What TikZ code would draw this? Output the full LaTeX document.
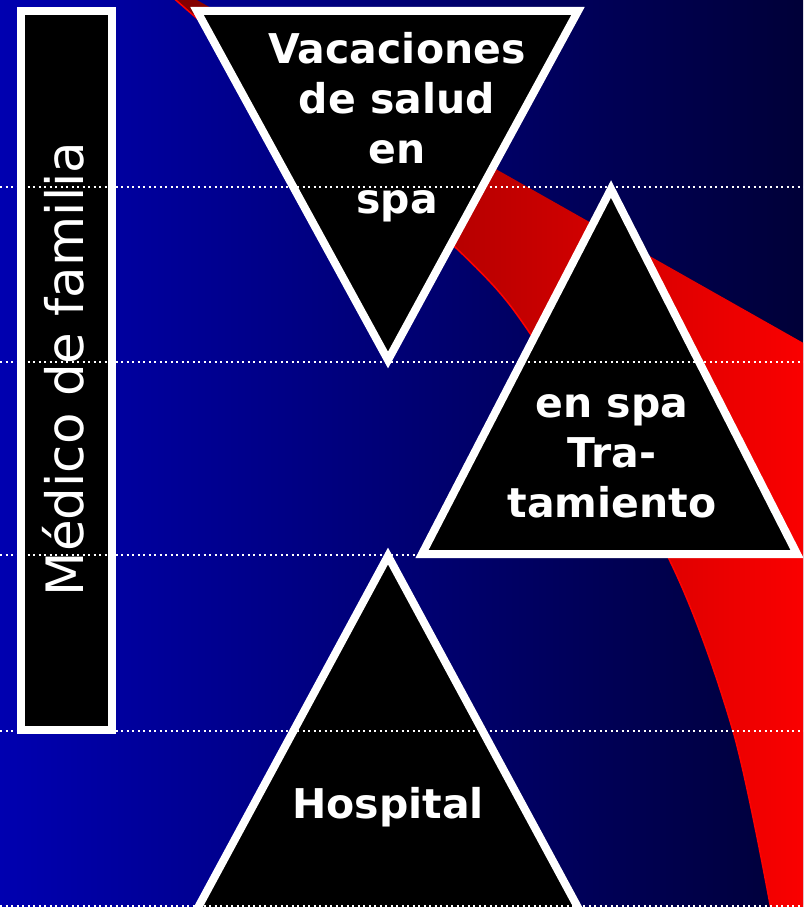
\documentclass[tikz,border=0pt]{standalone}
\usepackage{fontspec}
\setmainfont{DejaVu Sans}
\definecolor{fondoizq}{RGB}{0,0,176}
\definecolor{fondoder}{RGB}{0,0,56}
\definecolor{rojoosc}{RGB}{128,0,0}
\definecolor{rojomed}{RGB}{205,0,0}
\definecolor{rojo}{RGB}{255,0,0}
\tikzset{
 triangulo/.style={draw=white,fill=black,line width=8pt,line join=miter},
 rotulo/.style={text=white,font=\bfseries\fontsize{41}{50}\selectfont,align=center,anchor=base},
 punteada/.style={white,line width=2pt,dash pattern=on 2pt off 3.5pt},
}
\begin{document}
\begin{tikzpicture}[x=1pt,y=-1pt]
 \useasboundingbox (0,0) rectangle (803,907);
 \clip (0,0) rectangle (803,907);
 \shade [left color=fondoizq,right color=fondoder] (0,0) rectangle (803,907);

 % banda roja
 \shade [left color=rojoosc,middle color=rojomed,right color=rojo] (188,-5)--(830,358)--(830,915)
   --plot[smooth] coordinates {(772,915) (733,731) (667,555) (540,348) (455,247) (170,-5)}--cycle;
 \draw [rojo,line width=1.5pt] plot[smooth] coordinates {(772,915) (733,731) (667,555) (540,348) (455,247) (170,-5)};

 \draw [draw=white,fill=black,line width=8pt] (21,11) rectangle (112,730);
 \node [text=white,font=\fontsize{51.5}{60}\selectfont,rotate=90,anchor=base] (medico) at (83,369) {Médico de familia};

 \draw [triangulo] (197,11)--(578,11)--(388,360)--cycle;
 \draw [triangulo] (611,189)--(797,554)--(422,554)--cycle;
 \draw [triangulo] (388,556)--(582,915)--(194,915)--cycle;

 % anclas en la ultima linea
 \node [rotulo] (vacaciones) at (397,213) {Vacaciones\\de salud\\en\\spa};
 \node [rotulo] (tratamiento) at (612,517) {en spa\\Tra-\\tamiento};
 \node [rotulo] (hospital) at (388,818) {Hospital};

 \foreach \y in {187,362,555,731,906}
   \draw [punteada] (0,\y)--(803,\y);
\end{tikzpicture}
\end{document}
